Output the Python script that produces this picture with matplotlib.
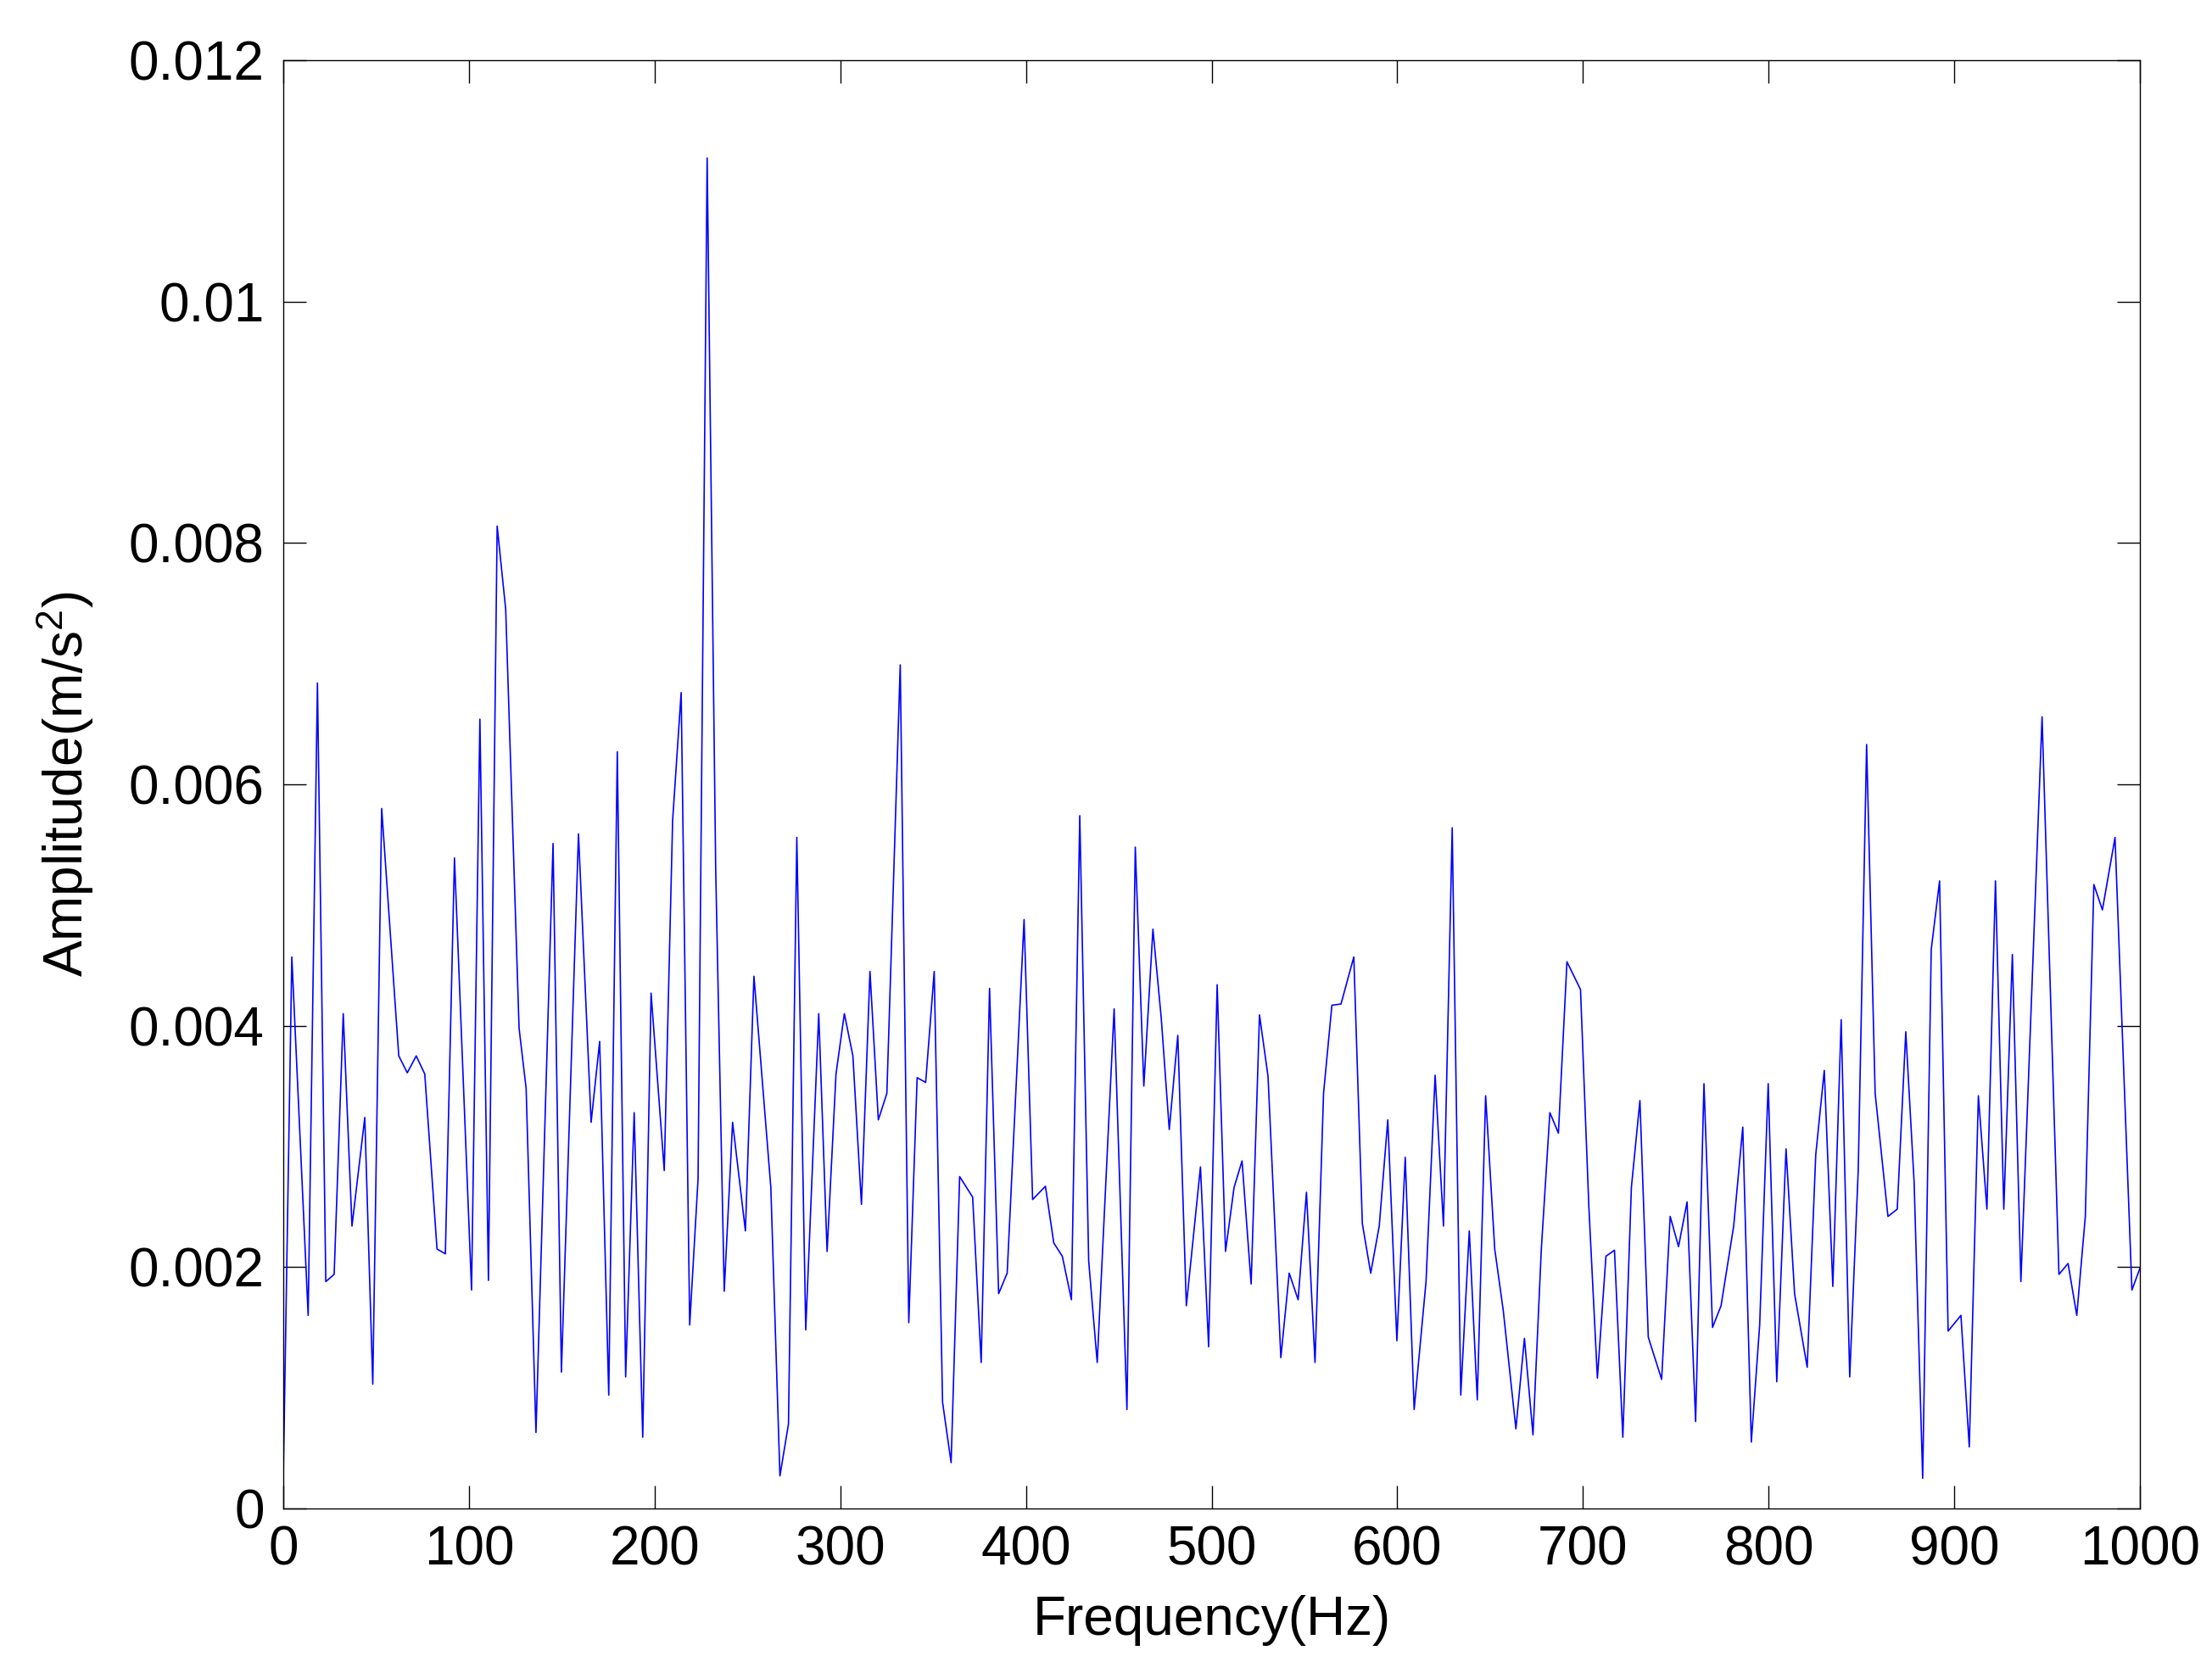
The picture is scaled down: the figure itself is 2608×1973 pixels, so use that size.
import matplotlib
matplotlib.use("Agg")
import matplotlib.pyplot as plt

plt.rcParams['font.family'] = ['Liberation Sans', 'DejaVu Sans']
plt.rcParams['mathtext.fontset'] = 'custom'
plt.rcParams['mathtext.rm'] = 'Liberation Sans'
plt.rcParams['mathtext.it'] = 'Liberation Sans'

freq_hz = [
    0.0, 4.6, 13.4, 18.4, 22.9, 27.4, 32.3, 37.0, 43.9, 48.2,
    53.0, 62.2, 66.8, 71.6, 76.2, 82.8, 87.3, 92.2, 101.4, 105.9,
    110.5, 115.2, 119.8, 127.0, 130.8, 136.1, 145.3, 149.8, 159.0, 165.8,
    170.4, 175.3, 179.9, 184.4, 189.0, 193.6, 198.1, 205.2, 209.7, 214.3,
    218.9, 223.4, 228.3, 232.9, 237.5, 242.0, 248.9, 253.5, 262.6, 267.5,
    272.1, 276.6, 281.4, 288.4, 292.9, 297.7, 302.2, 306.8, 311.4, 316.0,
    320.5, 325.1, 332.3, 336.9, 341.4, 346.0, 350.6, 355.1, 359.7, 364.3,
    371.3, 375.9, 380.4, 385.3, 389.9, 399.0, 403.6, 410.5, 415.0, 419.6,
    424.5, 429.0, 433.8, 438.4, 447.5, 454.4, 458.9, 463.5, 468.4, 472.9,
    477.2, 481.8, 486.4, 494.0, 498.4, 503.0, 507.5, 512.1, 516.4, 521.3,
    525.8, 530.4, 537.3, 541.8, 546.6, 551.1, 555.7, 560.3, 564.8, 569.7,
    576.6, 581.2, 585.7, 590.3, 594.9, 599.8, 604.3, 609.1, 615.5, 620.4,
    624.9, 629.6, 634.2, 638.8, 643.1, 647.6, 652.5, 657.1, 663.9, 668.5,
    673.1, 677.6, 682.2, 686.8, 691.4, 698.7, 703.2, 707.8, 712.4, 717.0,
    721.5, 726.1, 730.7, 735.2, 742.4, 747.0, 751.5, 756.1, 760.7, 765.2,
    769.8, 774.4, 781.2, 786.1, 790.7, 795.2, 799.8, 804.4, 809.4, 814.0,
    820.8, 825.4, 830.0, 834.6, 839.1, 843.7, 848.3, 852.8, 857.4, 864.3,
    869.3, 873.9, 878.4, 883.0, 887.6, 892.1, 896.7, 903.6, 908.1, 913.0,
    917.6, 922.2, 926.7, 931.3, 935.9, 947.3, 956.4, 961.3, 966.0, 970.6,
    975.2, 979.8, 986.6, 995.7, 1000.0,
]

amplitude = [
    0.00025, 0.00457, 0.00160, 0.00684, 0.00188, 0.00194, 0.00410, 0.00234, 0.00324, 0.00103,
    0.00580, 0.00375, 0.00361, 0.00375, 0.00360, 0.00215, 0.00211, 0.00539, 0.00181, 0.00654,
    0.00189, 0.00814, 0.00745, 0.00398, 0.00348, 0.00063, 0.00551, 0.00113, 0.00559, 0.00320,
    0.00387, 0.00094, 0.00627, 0.00109, 0.00328, 0.00059, 0.00427, 0.00280, 0.00570, 0.00676,
    0.00152, 0.00273, 0.01119, 0.00530, 0.00180, 0.00320, 0.00230, 0.00441, 0.00266, 0.00027,
    0.00070, 0.00556, 0.00148, 0.00410, 0.00213, 0.00360, 0.00410, 0.00375, 0.00252, 0.00445,
    0.00322, 0.00344, 0.00699, 0.00154, 0.00357, 0.00353, 0.00445, 0.00088, 0.00038, 0.00275,
    0.00258, 0.00121, 0.00431, 0.00178, 0.00195, 0.00488, 0.00256, 0.00267, 0.00220, 0.00209,
    0.00173, 0.00574, 0.00205, 0.00121, 0.00414, 0.00082, 0.00548, 0.00350, 0.00480, 0.00406,
    0.00314, 0.00392, 0.00168, 0.00283, 0.00134, 0.00434, 0.00213, 0.00266, 0.00288, 0.00186,
    0.00409, 0.00358, 0.00125, 0.00195, 0.00173, 0.00262, 0.00121, 0.00344, 0.00417, 0.00418,
    0.00457, 0.00236, 0.00195, 0.00234, 0.00322, 0.00139, 0.00291, 0.00082, 0.00188, 0.00359,
    0.00234, 0.00564, 0.00094, 0.00230, 0.00090, 0.00342, 0.00215, 0.00164, 0.00066, 0.00141,
    0.00061, 0.00215, 0.00328, 0.00311, 0.00453, 0.00430, 0.00250, 0.00108, 0.00209, 0.00214,
    0.00059, 0.00266, 0.00338, 0.00142, 0.00107, 0.00242, 0.00217, 0.00254, 0.00072, 0.00352,
    0.00150, 0.00168, 0.00234, 0.00316, 0.00055, 0.00152, 0.00352, 0.00105, 0.00298, 0.00178,
    0.00117, 0.00293, 0.00363, 0.00184, 0.00405, 0.00109, 0.00281, 0.00633, 0.00344, 0.00242,
    0.00248, 0.00395, 0.00270, 0.00025, 0.00463, 0.00520, 0.00147, 0.00160, 0.00051, 0.00342,
    0.00248, 0.00520, 0.00248, 0.00459, 0.00188, 0.00656, 0.00194, 0.00203, 0.00160, 0.00242,
    0.00517, 0.00496, 0.00556, 0.00181, 0.00199,
]

x_ticks = [0, 100, 200, 300, 400, 500, 600, 700, 800, 900, 1000]
y_ticks = [0, 0.002, 0.004, 0.006, 0.008, 0.010, 0.012]
y_tick_labels = ['0', '0.002', '0.004', '0.006', '0.008', '0.01', '0.012']

W, H, DPI = 2608, 1973, 200
fig = plt.figure(figsize=(W / DPI, H / DPI), dpi=DPI)
ax = fig.add_axes([334 / W, 1 - 1779 / H, (2523 - 334) / W, (1779 - 71) / H])

ax.plot(freq_hz, amplitude, color=(0, 0, 1), linewidth=0.6)

ax.set_xlim(0, 1000)
ax.set_ylim(0, 0.012)
ax.set_xticks(x_ticks)
ax.set_xticklabels([str(t) for t in x_ticks])
ax.set_yticks(y_ticks)
ax.set_yticklabels(y_tick_labels)

ax.tick_params(direction='in', length=9.7, width=0.5, top=True, right=True,
               labelsize=23, colors='black')
ax.tick_params(axis='x', pad=7)
ax.tick_params(axis='y', pad=8)
for s in ax.spines.values():
    s.set_linewidth(0.5)

ax.set_xlabel('Frequency(Hz)', fontsize=23, labelpad=8)
ax.set_ylabel('Amplitude(m/s$^2$)', fontsize=23, labelpad=14)

fig.savefig('out.png', dpi=DPI, facecolor='white')
